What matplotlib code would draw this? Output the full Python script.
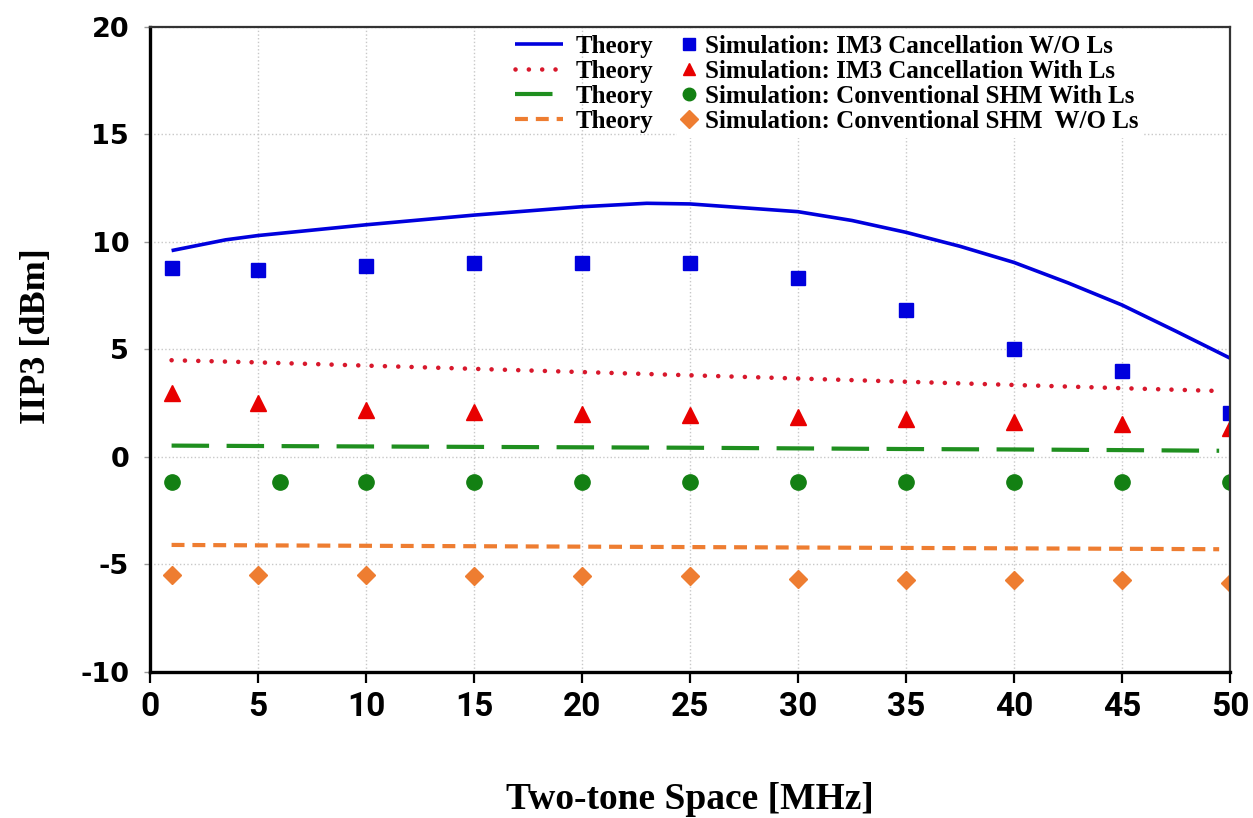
import numpy as np
import matplotlib.pyplot as plt

plt.rcParams['axes.unicode_minus'] = False

# theory curves
x_th_blue = [1, 3.5, 5, 10, 15, 20, 23, 25, 30, 32.5, 35, 37.5, 40, 42.5, 45, 47.5, 50]
y_th_blue = [9.6, 10.1, 10.3, 10.8, 11.25, 11.64, 11.8, 11.77, 11.41, 11.0, 10.45, 9.8, 9.05, 8.1, 7.07, 5.85, 4.6]

x_th = [1, 5, 10, 15, 20, 25, 30, 35, 40, 45, 49.5]
y_th_red = [4.5, 4.4, 4.25, 4.1, 3.95, 3.8, 3.65, 3.5, 3.35, 3.2, 3.07]
y_th_green = [0.53, 0.51, 0.49, 0.47, 0.45, 0.43, 0.40, 0.37, 0.35, 0.32, 0.29]
y_th_orange = [-4.09, -4.11, -4.13, -4.15, -4.17, -4.19, -4.21, -4.23, -4.25, -4.27, -4.29]

# simulation points
x_sim = [1, 5, 10, 15, 20, 25, 30, 35, 40, 45, 50]
x_sim_green = [1, 6, 10, 15, 20, 25, 30, 35, 40, 45, 50]
y_sim_blue = [8.8, 8.7, 8.9, 9.0, 9.0, 9.0, 8.33, 6.84, 5.02, 4.0, 2.05]
y_sim_red = [2.97, 2.5, 2.2, 2.08, 2.0, 1.95, 1.86, 1.78, 1.64, 1.53, 1.35]
y_sim_green = [-1.15] * 11
y_sim_orange = [-5.49, -5.49, -5.5, -5.55, -5.55, -5.55, -5.67, -5.7, -5.74, -5.74, -5.86]

sim_labels = ['Simulation: IM3 Cancellation W/O Ls',
              'Simulation: IM3 Cancellation With Ls',
              'Simulation: Conventional SHM With Ls',
              'Simulation: Conventional SHM  W/O Ls']

c_blue = '#0000dd'
c_red_line = '#d8182c'
c_red = '#e80000'
c_green_line = '#1f8f1f'
c_green = '#138013'
c_orange = '#ee7d31'

fig = plt.figure(figsize=(12.53, 8.18), dpi=100)
ax = fig.add_axes([0.1197, 0.1785, 0.8619, 0.7885])

l1, = ax.plot(x_th_blue, y_th_blue, color=c_blue, lw=2.6, solid_capstyle='butt')
l2, = ax.plot(x_th, y_th_red, color=c_red_line, lw=3.3, linestyle=(0, (0.01, 2.9)),
              dash_capstyle='round')
l3, = ax.plot(x_th, y_th_green, color=c_green_line, lw=3.0, linestyle=(0, (9.0, 4.2)))
l4, = ax.plot(x_th, y_th_orange, color=c_orange, lw=3.0, linestyle=(0, (3.1, 1.9)))

s1, = ax.plot(x_sim, y_sim_blue, 's', color=c_blue, ms=10, ls='none')
s2, = ax.plot(x_sim, y_sim_red, '^', color=c_red, ms=12, ls='none')
s3, = ax.plot(x_sim_green, y_sim_green, 'o', color=c_green, ms=11, ls='none')
s4, = ax.plot(x_sim, y_sim_orange, 'D', color=c_orange, ms=9, ls='none')

ax.set_xlim(0, 50)
ax.set_ylim(-10, 20)
ax.set_xticks(np.arange(0, 51, 5))
ax.set_yticks(np.arange(-10, 21, 5))
ax.grid(True, color='#c8c8c8', linestyle=':', lw=1.0)
ax.set_axisbelow(True)

for side in ['left', 'bottom']:
    ax.spines[side].set_linewidth(2.4)
    ax.spines[side].set_color('black')
for side in ['top', 'right']:
    ax.spines[side].set_linewidth(1.6)
    ax.spines[side].set_color('#333333')

ax.tick_params(axis='x', direction='out', length=8, width=1.6, color='black', pad=6)
ax.tick_params(axis='y', direction='out', length=4, width=1.0, color='#999999', pad=11)
for lab in ax.get_xticklabels():
    lab.set_fontfamily('Roboto')
    lab.set_fontweight('bold')
    lab.set_fontsize(24)
for lab in ax.get_yticklabels():
    lab.set_fontfamily('DejaVu Sans')
    lab.set_fontweight('bold')
    lab.set_fontsize(19.5)

ax.set_xlabel('Two-tone Space [MHz]', fontfamily='Liberation Serif', fontweight='bold',
              fontsize=27)
ax.set_ylabel('IIP3 [dBm]', fontfamily='Liberation Serif', fontweight='bold', fontsize=26)
ax.xaxis.set_label_coords(0.5, -0.17)
ax.yaxis.set_label_coords(-0.09, 0.52)

leg_font = {'family': 'Liberation Serif', 'weight': 'bold', 'size': 18}
leg1 = ax.legend([l1, l2, l3, l4], ['Theory'] * 4, prop=leg_font, frameon=False,
                 loc='upper left', bbox_to_anchor=(0.322, 1.015), handlelength=1.9,
                 handletextpad=0.5, labelspacing=0.08, borderpad=0.2)
ax.add_artist(leg1)
leg2 = ax.legend([s1, s2, s3, s4], sim_labels,
                 prop=leg_font, frameon=True, facecolor='white', edgecolor='none',
                 framealpha=1.0, fancybox=False,
                 loc='upper left', bbox_to_anchor=(0.476, 1.015), handlelength=0.6,
                 handletextpad=0.35, labelspacing=0.08, borderpad=0.2)
for h in leg2.legend_handles:
    h.set_markersize(9)

fig.savefig('out.png', dpi=100)
